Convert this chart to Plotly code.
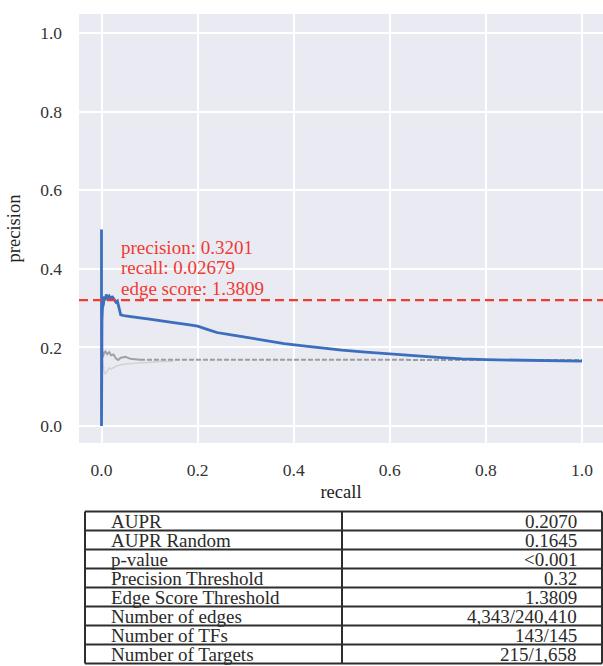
import plotly.graph_objects as go

# ---- data ----
pr_recall = [0.0, 0.0, 0.001, 0.002, 0.004, 0.006, 0.008, 0.010, 0.013, 0.016, 0.019, 0.022,
             0.025, 0.027, 0.030, 0.033, 0.036, 0.040, 0.05, 0.06, 0.08, 0.10, 0.12, 0.15,
             0.18, 0.20, 0.22, 0.24, 0.27, 0.30, 0.34, 0.38, 0.42, 0.46, 0.50, 0.55, 0.60,
             0.65, 0.70, 0.75, 0.80, 0.85, 0.90, 0.95, 1.0]
pr_precision = [0.5, 0.0, 0.27, 0.30, 0.31, 0.33, 0.32, 0.335, 0.325, 0.33, 0.322, 0.33,
                0.325, 0.32, 0.315, 0.318, 0.30, 0.283, 0.280, 0.278, 0.275, 0.272, 0.268,
                0.263, 0.258, 0.254, 0.246, 0.238, 0.232, 0.226, 0.217, 0.210, 0.204, 0.198,
                0.193, 0.188, 0.183, 0.179, 0.175, 0.171, 0.169, 0.168, 0.167, 0.166, 0.165]

rand1_recall = [0.001, 0.003, 0.005, 0.008, 0.012, 0.016, 0.020, 0.025, 0.030, 0.035, 0.040,
                0.050, 0.060, 0.070, 0.080]
rand1_precision = [0.20, 0.175, 0.185, 0.19, 0.183, 0.188, 0.18, 0.182, 0.172, 0.168, 0.174,
                   0.176, 0.171, 0.170, 0.169]

rand2_recall = [0.002, 0.005, 0.008, 0.012, 0.016, 0.020, 0.030, 0.040, 0.050, 0.070, 0.090,
                0.120, 0.150]
rand2_precision = [0.17, 0.14, 0.133, 0.14, 0.148, 0.145, 0.152, 0.156, 0.158, 0.160, 0.162,
                   0.164, 0.165]

random_mean_recall = [0.08, 1.0]
random_mean_precision = [0.169, 0.168]

precision_threshold = 0.3201
threshold_recall = 0.02679
threshold_edge_score = 1.3809

x_ticks = [0.0, 0.2, 0.4, 0.6, 0.8, 1.0]
y_ticks = [0.0, 0.2, 0.4, 0.6, 0.8, 1.0]

table_labels = ["AUPR", "AUPR Random", "p-value", "Precision Threshold",
                "Edge Score Threshold", "Number of edges", "Number of TFs",
                "Number of Targets"]
table_values = ["0.2070", "0.1645", "<0.001", "0.32", "1.3809", "4,343/240,410",
                "143/145", "215/1,658"]

# ---- figure ----
W, H = 603, 666
SERIF = "Liberation Serif, Times New Roman, serif"
TXT = "#2a2a2a"
RED = "#EE3B33"


def px(v):
    """window x pixel -> paper x"""
    return v / W


def py(v):
    """window y pixel -> paper y"""
    return 1 - v / H


fig = go.Figure()

fig.add_trace(go.Scatter(x=rand2_recall, y=rand2_precision, mode="lines",
                         line=dict(color="#D2D2D6", width=1.6), showlegend=False))
fig.add_trace(go.Scatter(x=rand1_recall, y=rand1_precision, mode="lines",
                         line=dict(color="#A2A2A4", width=2), showlegend=False))
fig.add_trace(go.Scatter(x=random_mean_recall, y=random_mean_precision, mode="lines",
                         line=dict(color="#9C9C9E", width=2, dash="5px,2px"), showlegend=False))
fig.add_trace(go.Scatter(x=pr_recall, y=pr_precision, mode="lines",
                         line=dict(color="#3C6EBE", width=2.8), showlegend=False))

fig.add_shape(type="line", xref="x domain", yref="y", x0=0, x1=1,
              y0=precision_threshold, y1=precision_threshold,
              line=dict(color=RED, width=2.2, dash="9px,5px"))

label_lines = [f"precision: {precision_threshold:.4f}",
               f"recall: {threshold_recall}",
               f"edge score: {threshold_edge_score:.4f}"]
for line_text, ypix in zip(label_lines, [247, 267.5, 288]):
    fig.add_annotation(x=0.037, y=py(ypix), xref="x", yref="paper", xanchor="left",
                       yanchor="middle", showarrow=False, text=line_text,
                       font=dict(family=SERIF, size=19, color=RED))

# ---- table (drawn with shapes + annotations) ----
tbl_left, tbl_mid, tbl_right = 85, 342, 602
tbl_top, row_h = 511.5, 19.0
n_rows = len(table_labels)
line_style = dict(color="#2e2e2e", width=2)
for i in range(n_rows + 1):
    yy = tbl_top + i * row_h
    fig.add_shape(type="line", xref="paper", yref="paper", x0=px(tbl_left), x1=px(tbl_right),
                  y0=py(yy), y1=py(yy), line=line_style)
tbl_bottom = tbl_top + n_rows * row_h
for xx in (tbl_left, tbl_mid, tbl_right):
    fig.add_shape(type="line", xref="paper", yref="paper", x0=px(xx), x1=px(xx),
                  y0=py(tbl_top), y1=py(tbl_bottom), line=line_style)
for i, (lab, val) in enumerate(zip(table_labels, table_values)):
    yc = py(tbl_top + (i + 0.5) * row_h)
    fig.add_annotation(x=px(tbl_left + 24), y=yc, xref="paper", yref="paper",
                       xanchor="left", yanchor="middle", showarrow=False, text=lab,
                       font=dict(family=SERIF, size=19, color=TXT))
    fig.add_annotation(x=px(tbl_right - 23), y=yc, xref="paper", yref="paper",
                       xanchor="right", yanchor="middle", showarrow=False, text=val,
                       font=dict(family=SERIF, size=19, color=TXT))

# plot area in window pixels: x 79..right edge, y 14..443
x0_pix, x_unit = 101.5, 480.5   # window x of recall 0, pixels per recall unit
x_lo = (79 - x0_pix) / x_unit
x_hi = (W - x0_pix) / x_unit

fig.update_layout(
    width=W, height=H,
    margin=dict(l=0, r=0, t=0, b=0),
    paper_bgcolor="white",
    plot_bgcolor="#EAEAF2",
    showlegend=False,
    xaxis=dict(domain=[px(79), 1.0], range=[x_lo, x_hi], tickvals=x_ticks,
               ticktext=[f"{v:.1f}" for v in x_ticks], showgrid=True, automargin=False,
               gridcolor="white", gridwidth=1.6, zeroline=False, showline=False,
               ticklabelstandoff=14,
               tickfont=dict(family=SERIF, size=17.5, color="#333333"),
               title=dict(text="recall", standoff=6,
                          font=dict(family=SERIF, size=18.5, color="#222222"))),
    yaxis=dict(domain=[py(443), py(14)], range=[-0.043, 1.048], tickvals=y_ticks,
               ticktext=[f"{v:.1f}" for v in y_ticks], showgrid=True, automargin=False,
               gridcolor="white", gridwidth=1.6, zeroline=False, showline=False,
               ticklabelstandoff=16,
               tickfont=dict(family=SERIF, size=17.5, color="#333333"),
               title=dict(text="precision", standoff=14,
                          font=dict(family=SERIF, size=18.5, color="#222222"))),
)

fig.write_html(
    "out.html",
    config={"displayModeBar": False},
    post_script="document.body.style.margin='0';document.body.style.overflow='hidden';",
)
